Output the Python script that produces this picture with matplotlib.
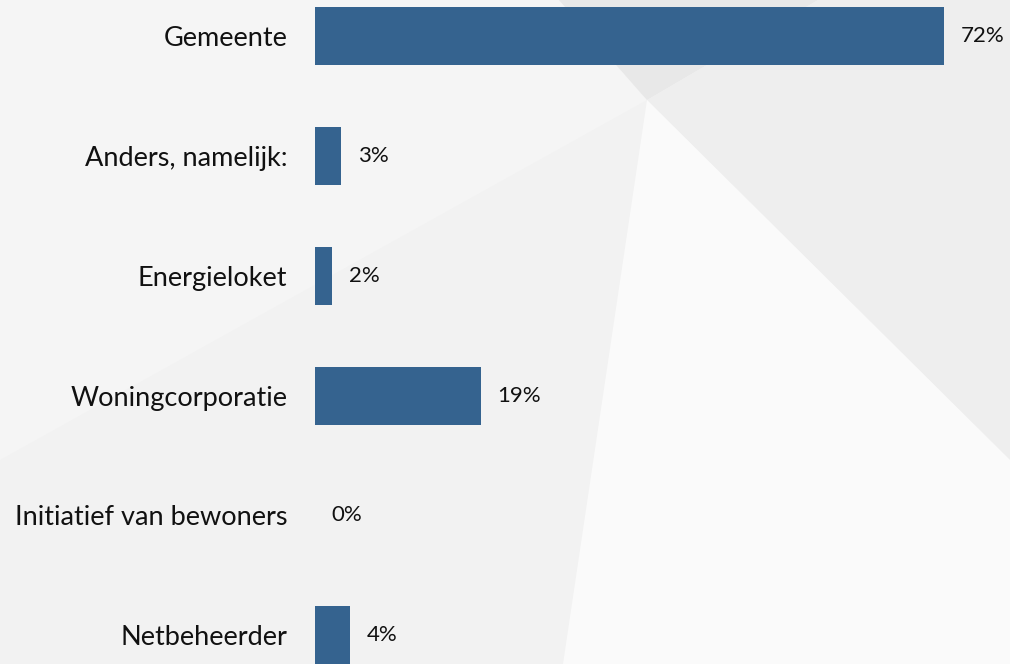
import matplotlib
matplotlib.use('Agg')
import matplotlib.pyplot as plt
from matplotlib.patches import Polygon

# ── data ──
categories = ['Gemeente', 'Anders, namelijk:', 'Energieloket', 'Woningcorporatie',
              'Initiatief van bewoners', 'Netbeheerder']
values = [72, 3, 2, 19, 0, 4]
value_labels = ['72%', '3%', '2%', '19%', '0%', '4%']

BAR = '#35638F'
W, H = 1010, 664
plt.rcParams['font.family'] = ['Lato', 'DejaVu Sans']

fig = plt.figure(figsize=(W / 100, H / 100), dpi=100)

# decorative background (pixel coords)
bg = fig.add_axes([0, 0, 1, 1])
bg.set_xlim(0, W); bg.set_ylim(H, 0); bg.axis('off')
shapes = [
    ([(0, 0), (W, 0), (W, H), (0, H)], '#F2F2F2'),
    ([(0, 0), (559, 0), (647, 100), (0, 460)], '#F5F5F5'),
    ([(559, 0), (818, 0), (647, 100)], '#E8E8E8'),
    ([(818, 0), (W, 0), (W, 460), (647, 100)], '#EEEEEE'),
    ([(647, 100), (W, 460), (W, H), (563, H)], '#FAFAFA'),
]
for pts, c in shapes:
    bg.add_patch(Polygon(pts, closed=True, facecolor=c, edgecolor='none'))

# bars
ax = fig.add_axes([315 / W, 0, (W - 315) / W, 1])
ax.patch.set_alpha(0)
y = list(range(len(categories)))
ax.barh(y, values, height=0.484, color=BAR)
ax.set_xlim(0, (W - 315) / 8.736)
ax.set_ylim(5.24, -0.30)
ax.set_yticks(y)
ax.set_yticklabels(categories, fontsize=19.5, color='#111111')
ax.tick_params(axis='y', length=0, pad=20)
ax.set_xticks([])
for s in ax.spines.values():
    s.set_visible(False)

for yi, v, lab in zip(y, values, value_labels):
    ax.annotate(lab, (v, yi), xytext=(12, 0), textcoords='offset points',
                va='center', ha='left', fontsize=16, color='#111111')

fig.savefig('out.png', dpi=100)
